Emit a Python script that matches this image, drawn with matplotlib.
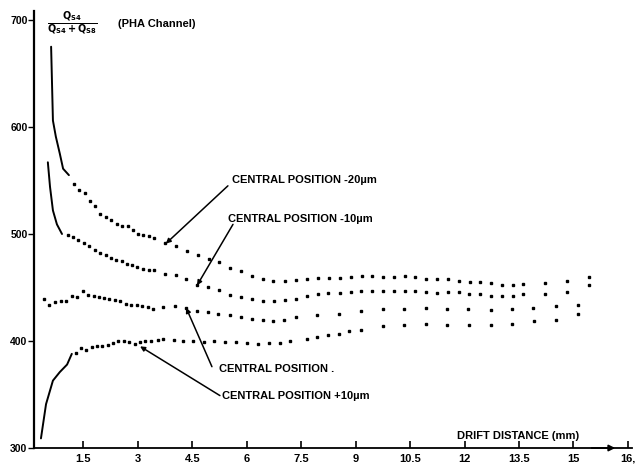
import numpy as np
import matplotlib.pyplot as plt

plt.rcParams['font.family'] = ['Liberation Sans', 'DejaVu Sans']
plt.rcParams['font.weight'] = 'bold'

# central position -20um : solid start, then measured dots
m20_line_x = [0.61, 0.66, 0.74, 0.85, 0.94, 1.10]
m20_line_y = [675, 606, 591, 575, 561, 555]
m20_x = [1.24, 1.38, 1.54, 1.68, 1.82, 1.96, 2.12, 2.26, 2.42, 2.56, 2.73, 2.87,
         3.00, 3.14, 3.31, 3.44, 3.75, 4.05, 4.35, 4.66, 4.96, 5.23, 5.54, 5.84,
         6.14, 6.45, 6.72, 7.05, 7.36, 7.66, 7.96, 8.26, 8.57, 8.87, 9.17, 9.45,
         9.75, 10.06, 10.36, 10.63, 10.94, 11.24, 11.54, 11.85, 12.15, 12.42,
         12.73, 13.03, 13.33, 13.61, 14.21, 14.82, 15.43]
m20_y = [547, 541, 538, 531, 526, 519, 516, 513, 509, 507, 507, 504,
         500, 499, 498, 496, 492, 489, 484, 480, 477, 474, 468, 465,
         461, 458, 456, 456, 457, 458, 459, 459, 459, 460, 461, 461,
         460, 460, 461, 460, 458, 458, 458, 456, 455, 455,
         454, 452, 452, 453, 454, 456, 460]

# central position -10um
m10_line_x = [0.52, 0.58, 0.66, 0.77, 0.91]
m10_line_y = [567, 544, 522, 509, 500]
m10_x = [1.07, 1.21, 1.35, 1.52, 1.65, 1.82, 1.96, 2.12, 2.26, 2.40, 2.56, 2.70,
         2.84, 2.98, 3.14, 3.31, 3.44, 3.75, 4.05, 4.33, 4.63, 4.93, 5.23, 5.54,
         5.84, 6.14, 6.45, 6.75, 7.05, 7.36, 7.66, 7.96, 8.24, 8.57, 8.87, 9.15,
         9.45, 9.75, 10.06, 10.36, 10.63, 10.94, 11.24, 11.54, 11.85, 12.12,
         12.42, 12.73, 13.03, 13.33, 13.61, 14.21, 14.82, 15.43]
m10_y = [499, 497, 494, 492, 489, 485, 482, 480, 478, 476, 475, 472,
         471, 469, 467, 466, 466, 463, 462, 458, 452, 450, 448, 443,
         441, 439, 437, 437, 438, 439, 442, 444, 445, 445, 446, 447,
         447, 447, 447, 447, 447, 446, 445, 446, 446, 444,
         444, 442, 442, 442, 444, 444, 446, 452]

# central position
c_x = [0.41, 0.55, 0.72, 0.88, 1.02, 1.18, 1.32, 1.49, 1.63, 1.79, 1.93, 2.07,
       2.20, 2.37, 2.51, 2.67, 2.81, 2.98, 3.11, 3.28, 3.42, 3.69, 4.02, 4.33,
       4.63, 4.93, 5.21, 5.54, 5.84, 6.14, 6.45, 6.72, 7.02, 7.36, 7.93, 8.54,
       9.15, 9.75, 10.33, 10.94, 11.52, 12.09, 12.73, 13.31, 13.88, 14.52,
       15.12, 15.12]
c_y = [439, 434, 436, 437, 437, 442, 441, 447, 443, 442, 441, 440,
       439, 438, 437, 435, 434, 434, 433, 432, 430, 432, 433, 431,
       428, 427, 425, 424, 422, 421, 420, 419, 420, 422, 424, 425,
       428, 430, 430, 431, 430, 430, 429, 430, 431, 433,
       434, 425]

# central position +10um
p10_line_x = [0.33, 0.47, 0.66, 0.85, 1.05, 1.18]
p10_line_y = [309, 341, 363, 371, 378, 388]
p10_x = [1.29, 1.43, 1.57, 1.74, 1.87, 2.01, 2.18, 2.31, 2.45, 2.62, 2.75, 2.92,
         3.06, 3.20, 3.36, 3.55, 3.69, 3.99, 4.24, 4.52, 4.82, 5.10, 5.40, 5.70,
         6.01, 6.31, 6.61, 6.91, 7.19, 7.66, 7.93, 8.24, 8.54, 8.82, 9.15, 9.75,
         10.33, 10.94, 11.52, 12.12, 12.73, 13.31, 13.91, 14.52]
p10_y = [389, 393, 392, 394, 395, 395, 396, 398, 400, 400, 399, 397,
         399, 400, 400, 401, 402, 401, 400, 400, 399, 400, 399, 399,
         398, 397, 398, 398, 400, 402, 404, 406, 407, 409, 410, 414,
         415, 416, 415, 415, 415, 416, 419, 420]

xticks = [1.5, 3, 4.5, 6, 7.5, 9, 10.5, 12, 13.5, 15, 16.5]
xlabels = ['1.5', '3', '4.5', '6', '7.5', '9', '10.5', '12', '13.5', '15', '16,']
yticks = [300, 400, 500, 600, 700]

fig = plt.figure(figsize=(6.35, 4.75), dpi=100)
ax = fig.add_axes([0.0542, 0.0568, 0.9404, 0.9192])
ax.set_xlim(0.15, 16.6)
ax.set_ylim(300, 708)

for lx, ly in [(m20_line_x, m20_line_y), (m10_line_x, m10_line_y),
               (p10_line_x, p10_line_y)]:
    ax.plot(lx, ly, color='black', lw=1.4, solid_capstyle='round')
for dx, dy in [(m20_x, m20_y), (m10_x, m10_y), (c_x, c_y), (p10_x, p10_y)]:
    ax.plot(dx, dy, ls='none', marker='s', ms=1.7, color='black')

for s in ['top', 'right']:
    ax.spines[s].set_visible(False)
ax.spines['left'].set_linewidth(1.6)
ax.spines['bottom'].set_linewidth(1.3)

ax.set_xticks(xticks)
ax.set_xticklabels(xlabels, fontsize=8, fontweight='bold')
ax.set_yticks(yticks)
ax.set_yticklabels([str(v) for v in yticks], fontsize=7.5, fontweight='bold')
ax.tick_params(axis='x', direction='in', length=5, width=1.2, pad=4)
ax.tick_params(axis='y', direction='out', length=4, width=1.0, pad=1)

# arrow on the x axis
ax.annotate('', xy=(16.15, 300), xytext=(15.5, 300),
            arrowprops=dict(arrowstyle='-|>', color='black', lw=1.3,
                            mutation_scale=9, shrinkA=0, shrinkB=0),
            annotation_clip=False)

# labels with arrows
notes = [
    ('CENTRAL POSITION -20µm', (5.59, 550), (5.48, 545), (3.77, 491)),
    ('CENTRAL POSITION -10µm', (5.48, 514), (5.62, 509), (4.63, 452)),
    ('CENTRAL POSITION .', (5.23, 374), (5.04, 376), (4.33, 431)),
    ('CENTRAL POSITION +10µm', (5.32, 349), (5.26, 349), (3.06, 395)),
]
for txt, tpos, tail, head in notes:
    ax.text(tpos[0], tpos[1], txt, fontsize=8, fontweight='bold',
            ha='left', va='center')
    ax.annotate('', xy=head, xytext=tail,
                arrowprops=dict(arrowstyle='-|>', color='black', lw=1.1,
                                mutation_scale=7, shrinkA=0, shrinkB=0))

ax.text(11.79, 311, 'DRIFT DISTANCE (mm)', fontsize=8, fontweight='bold',
        ha='left', va='center')
ax.text(1.2, 697, r'$\mathbf{\frac{Q_{S4}}{Q_{S4}+Q_{S8}}}$', fontsize=10,
        ha='center', va='center')
ax.text(2.45, 696, '(PHA Channel)', fontsize=8, fontweight='bold',
        ha='left', va='center')

fig.savefig('out.png', dpi=100)
